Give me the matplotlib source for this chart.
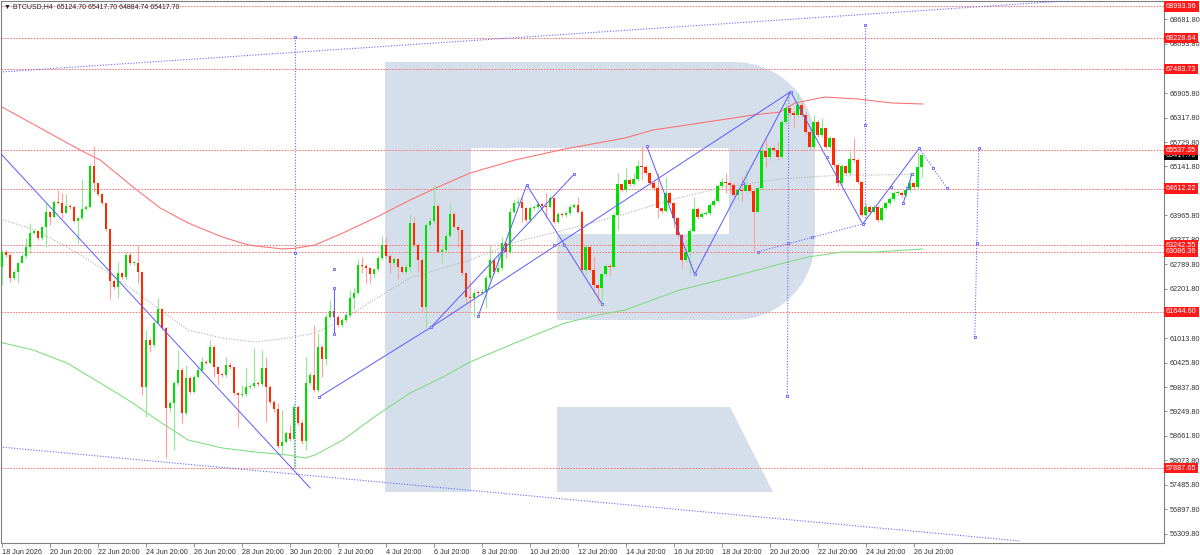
import numpy as np
import matplotlib
matplotlib.use("Agg")
import matplotlib.pyplot as plt
import matplotlib.transforms as mtransforms
from matplotlib.patches import Polygon

plt.rcParams['font.family'] = ['Liberation Sans', 'DejaVu Sans']

header = "\u25bc BTCUSD,H4  65124.70 65417.70 64884.74 65417.70"

# H4 candles, bar 0 = 18 Jun 20:00
first_open = 62732
closes = [
    63093, 63013, 62453, 62612, 62814, 62989, 63213, 63535, 63598, 63415,
    63679, 64040, 63920, 64295, 64271, 64016, 64199, 64160, 63838, 63896,
    64112, 64175, 65154, 64738, 64473, 64257, 63631, 62395, 62251, 62573,
    62477, 63013, 62814, 62828, 62612, 59846, 60969, 60849, 61371, 61707,
    61250, 59326, 59447, 59928, 60247, 59206, 60048, 59726, 60072, 60247,
    60447, 60423, 60808, 60327, 60151, 60127, 60368, 60312, 59687, 59646,
    59670, 59846, 59863, 59942, 59903, 60303, 59846, 59485, 59302, 58420,
    58523, 58725, 58581, 59350, 58980, 58540, 59928, 60127, 59766, 60793,
    60505, 61530, 61674, 61530, 61330, 61450, 61570, 61972, 62107, 62773,
    62756, 62693, 62556, 62669, 62934, 63247, 62989, 62814, 62917, 62732,
    62612, 62732, 63776, 63254, 62893, 61755, 63735, 63831, 64199, 63093,
    63134, 63478, 63999, 63694, 63615, 62573, 62010, 61972, 62107, 62092,
    62131, 62453, 62893, 62612, 62693, 63295, 63093, 64055, 64257, 64295,
    64136, 63855, 64136, 64161, 64240, 64192, 64175, 64377, 63814, 63999,
    63975, 64016, 64175, 64216, 64055, 62652, 63198, 62652, 62292, 62212,
    62556, 62749, 62717, 63975, 64721, 64577, 64817, 64721, 64834, 65154,
    65122, 64978, 64738, 64632, 64136, 64079, 64497, 64257, 63896, 63494,
    62893, 63093, 63598, 64112, 63920, 63992, 64016, 64216, 64319, 64673,
    64776, 64738, 64697, 64456, 64577, 64553, 64697, 64553, 64055, 64617,
    65514, 65370, 65579, 65538, 65377, 66219, 66541, 66421, 66380, 66621,
    66380, 65979, 65618, 66219, 65899, 66060, 65618, 65820, 65178, 64738,
    65154, 64978, 65315, 65298, 64776, 63975, 64175, 64055, 64175, 63855,
    64136, 64257, 64353, 64497, 64512, 64456, 64577, 64738, 64641, 65124.7,
    65417.7,
]
highs = [
    63133, 63133, 63061, 62652, 62845, 63037, 63422, 63783, 63639, 63615,
    63711, 64264, 64047, 64336, 64577, 64504, 64480, 64240, 64216, 63927,
    64834, 64216, 65202, 65635, 64697, 64456, 64264, 63639, 62436, 62852,
    62604, 63085, 63093, 62869, 63254, 62629, 61210, 61017, 61426, 61972,
    61739, 61282, 59502, 59983, 60729, 60296, 60368, 60103, 60128, 60327,
    60567, 60488, 60969, 60849, 60344, 60175, 60567, 60447, 60327, 59719,
    59887, 60327, 59911, 60769, 59983, 60729, 60567, 59887, 59526, 59447,
    59286, 58780, 58925, 59447, 59406, 59045, 60567, 60200, 61330, 61130,
    60849, 61594, 61931, 61972, 61570, 61498, 61618, 62171, 62251, 62910,
    62973, 62797, 62725, 62701, 62989, 63477, 63453, 63037, 62965, 62965,
    62773, 62797, 64000, 63935, 63302, 62941, 63776, 63903, 64697, 64240,
    63206, 63535, 64257, 64047, 63735, 63639, 62604, 62412, 62171, 62171,
    62196, 62532, 63254, 62941, 63054, 63453, 63326, 64136, 64336, 64384,
    64415, 64168, 64192, 64216, 64288, 64264, 64497, 64456, 64408, 64047,
    64047, 64071, 64240, 64264, 64415, 64096, 63254, 63230, 62973, 62316,
    62604, 62797, 62797, 64047, 64978, 64745, 65098, 64865, 64985, 65298,
    65635, 65178, 65009, 64793, 64978, 64168, 64896, 64528, 64288, 63927,
    63518, 63374, 63663, 64415, 64168, 64047, 64071, 64264, 64384, 64721,
    64858, 64978, 64769, 64745, 64625, 64896, 65058, 64745, 64625, 64673,
    65659, 65803, 65635, 65635, 65738, 66284, 66669, 66580, 66501, 66921,
    66693, 66452, 66020, 66380, 66260, 66301, 66099, 65875, 65779, 65226,
    65202, 65178, 65498, 65820, 65346, 64793, 64271, 64216, 64216, 64216,
    64192, 64312, 64408, 64553, 64577, 64553, 64625, 64978, 64776, 65498,
    65417.7,
]
lows = [
    62292, 62965, 62371, 62412, 62333, 62845, 62941, 63061, 63518, 63374,
    63374, 63213, 63735, 63903, 64240, 63903, 64023, 64120, 63807, 63295,
    63855, 64096, 64144, 64536, 64432, 64216, 63590, 61948, 62196, 61972,
    62436, 62436, 62773, 62773, 62333, 59646, 59124, 60688, 60801, 61354,
    61210, 58124, 59237, 58324, 59887, 58966, 59165, 59670, 59694, 60055,
    60223, 60392, 60392, 60086, 59887, 60079, 60086, 60271, 59646, 58884,
    59598, 59622, 59791, 59815, 59863, 59863, 59004, 59430, 59237, 58372,
    58203, 58492, 58540, 57888, 58925, 58468, 58324, 59887, 59719, 59719,
    60086, 60368, 61498, 61371, 61282, 61282, 61402, 61522, 61691, 62075,
    62573, 62333, 62333, 62453, 62629, 62893, 62941, 62588, 62773, 62429,
    62580, 62556, 62612, 63206, 62612, 61650, 61289, 63663, 63783, 63061,
    62814, 63085, 63446, 63663, 63213, 62532, 61852, 61770, 61546, 62027,
    62051, 61731, 62412, 62556, 62580, 62652, 62934, 63061, 64023, 64216,
    63814, 63807, 63807, 64096, 64120, 64144, 63896, 64144, 63783, 63783,
    63927, 63927, 63975, 64144, 64023, 62604, 62532, 62612, 62092, 61852,
    61890, 62508, 62532, 62677, 63615, 64528, 64528, 64673, 64673, 64793,
    64817, 64937, 64697, 64577, 63896, 64023, 64047, 64216, 63655, 63446,
    62701, 62845, 62549, 63566, 63879, 63903, 63975, 63975, 64168, 64288,
    64625, 64497, 64497, 64408, 64336, 64295, 64504, 64504, 63093, 64023,
    64577, 65130, 65298, 65490, 65298, 65346, 66164, 66356, 66060, 66332,
    66332, 65923, 65563, 65587, 65851, 65851, 65563, 65587, 65130, 64673,
    64697, 64937, 64937, 65250, 64721, 63927, 63951, 63999, 64023, 63814,
    63831, 64096, 64216, 64312, 64456, 64408, 64408, 64528, 64577, 64601,
    64884.74,
]

tick_bars = list(range(0, 229, 12))
tick_labels = ["18 Jun 2026", "20 Jun 20:00", "22 Jun 20:00", "24 Jun 20:00",
               "26 Jun 20:00", "28 Jun 20:00", "30 Jun 20:00", "2 Jul 20:00",
               "4 Jul 20:00", "6 Jul 20:00", "8 Jul 20:00", "10 Jul 20:00",
               "12 Jul 20:00", "14 Jul 20:00", "16 Jul 20:00", "18 Jul 20:00",
               "20 Jul 20:00", "22 Jul 20:00", "24 Jul 20:00", "26 Jul 20:00"]

price_ticks = [68681.80, 68093.80, 66905.80, 66317.80, 65729.80, 65141.80,
               63965.80, 63377.80, 62789.80, 62201.80, 61013.80, 60425.80,
               59837.80, 59249.80, 58661.80, 58073.80, 57485.80, 56897.80,
               56309.80]
levels = [68993.96, 68228.64, 67483.73, 65537.35, 64612.22, 63242.55,
          63086.36, 61644.60, 57887.65]
last_price = 65417.70

# moving averages, read at sample bars
ma_red_x = [-0.4, 19.6, 24.6, 32.8, 39.6, 46.6, 55.1, 61.6, 70.1, 73.3, 78.3,
            85.3, 93.8, 102.1, 109.1, 117.1, 128.3, 140.8, 155.8, 162.8, 171.3,
            179.6, 187.8, 194.6, 198.3, 205.8, 214.1, 222.6, 230.3]
ma_red = [66597, 65538, 65298, 64649, 64144, 63783, 63446, 63254, 63158, 63175,
          63254, 63543, 63928, 64336, 64649, 64985, 65298, 65563, 65827, 66020,
          66140, 66260, 66380, 66452, 66669, 66813, 66765, 66669, 66645]
ma_gray_x = [-0.4, 7.8, 16.3, 24.6, 32.8, 39.6, 46.6, 55.1, 63.3, 71.6, 78.3,
             85.3, 93.8, 102.1, 110.3, 117.1, 128.3, 140.8, 155.8, 167.1, 179.6,
             194.6, 201.6, 210.1, 218.3, 228.3]
ma_gray = [63872, 63639, 63206, 62725, 62172, 61690, 61209, 61017, 60921, 61017,
           61137, 61450, 61979, 62460, 62701, 62893, 63326, 63615, 63999, 64336,
           64625, 64841, 64889, 64937, 64937, 64961]
ma_green_x = [-0.4, 7.8, 16.3, 24.6, 32.8, 36.3, 39.6, 46.6, 55.1, 63.3, 71.6,
              75.8, 78.3, 85.3, 93.8, 102.1, 110.3, 117.1, 128.3, 140.8, 149.1,
              155.8, 169.6, 179.6, 194.6, 201.6, 210.1, 218.3, 230.3]
ma_green = [60914, 60729, 60416, 59935, 59454, 59213, 58997, 58564, 58372, 58276,
            58203, 58131, 58203, 58564, 59165, 59694, 60079, 60440, 60897, 61378,
            61570, 61690, 62172, 62412, 62797, 62965, 63085, 63085, 63158]

# drawn analysis objects (bar, price)
solid_lines = [
    ([-0.4, 77.1], [65466, 57410]),
    ([79.2, 107.3], [59591, 61274]),
    ([107.3, 197.25], [61274, 66941]),
    ([107.3, 143.15], [61274, 64961]),
    ([119.15, 131.25, 150.15], [61554, 64697, 61828]),
    ([161.25, 173.25, 197.25, 215.25, 229.4], [65635, 62549, 66941, 63759, 65579]),
    ([225.4, 227.5], [64257, 64954]),
    ([83.1, 83.1], [62213, 61113]),
]
dotted_lines = [
    ([-0.4, 290.6], [67414, 69281]),
    ([-0.4, 254.6], [58396, 56135]),
    ([229.4, 236.4], [65579, 64617]),
    ([189.15, 215.25], [63093, 63759]),
    ([73.2, 73.2], [68256, 57843]),
    ([196.8, 196.4], [66941, 59622]),
    ([215.8, 215.8], [68545, 63759]),
    ([244.3, 243.3], [65587, 61041]),
]
marker_x = [79.2, 107.3, 125.25, 143.15, 119.15, 131.25, 150.15, 140.65, 138.1,
            161.25, 173.25, 197.25, 215.25, 229.4, 185.25, 206.25, 222.3, 232.9,
            236.4, 225.4, 227.5, 226.4, 189.15, 202.5, 73.2, 73.2, 196.5, 196.4,
            215.8, 215.8, 244.3, 243.8, 243.3, 83.1, 83.1, 83.1]
marker_y = [59591, 61274, 63117, 64961, 61554, 64697, 61828, 63261, 63261,
            65635, 62549, 66941, 63759, 65579, 64752, 65363, 64656, 65098,
            64617, 64257, 64954, 64617, 63093, 63439, 68256, 63061, 63302, 59622,
            68545, 66140, 65587, 63302, 61041, 62213, 62666, 61113]

W, H = 1200, 555
fig = plt.figure(figsize=(W / 100, H / 100), dpi=100)
ax = fig.add_axes([1 / W, 12 / H, 1163 / W, 542 / H])
ax.set_xlim(-0.2, 290.6)
ax.set_ylim(56087, 69122)


def px(xp, yp):
    return ((xp - 1) / 1163, (543 - yp) / 542)


# watermark "R"
logo_c = '#d5dfeb'
r = 80
outer = [(385, 62), (735, 62)]
for a in np.linspace(np.pi / 2, 0, 12):
    outer.append((735 + r * np.cos(a), 142 - r * np.sin(a)))
for a in np.linspace(0, -np.pi / 2, 12):
    outer.append((735 + r * np.cos(a), 240 - r * np.sin(a)))
outer += [(557, 320), (557, 234), (729, 234), (729, 148), (471, 148),
          (471, 492), (385, 492)]
ax.add_patch(Polygon([px(*p) for p in outer], closed=True, fc=logo_c, ec='none',
                     transform=ax.transAxes, zorder=0))
leg = [(557, 407), (730, 407), (773, 492), (557, 492)]
ax.add_patch(Polygon([px(*p) for p in leg], closed=True, fc=logo_c, ec='none',
                     transform=ax.transAxes, zorder=0))

for lv in levels:
    ax.axhline(lv, color='#ff6a6a', lw=0.7, ls=(0, (1.5, 1.5)), zorder=1)

ax.plot(ma_red_x, ma_red, color='#ff6e6e', lw=0.75, zorder=2)
ax.plot(ma_green_x, ma_green, color='#7ddc7d', lw=0.75, zorder=2)
ax.plot(ma_gray_x, ma_gray, color='#b0b0b0', lw=0.8, ls=(0, (1, 1.5)), zorder=2)

# candles
c = np.array(closes, dtype=float)
o = np.array([first_open] + closes[:-1], dtype=float)
hi = np.maximum(np.array(highs, dtype=float), np.maximum(o, c))
lo = np.minimum(np.array(lows, dtype=float), np.minimum(o, c))
idx = np.arange(len(c))
up = c >= o
ax.vlines(idx[up], lo[up], hi[up], color='#90e890', lw=0.8, zorder=3)
ax.vlines(idx[~up], lo[~up], hi[~up], color='#ff9f9f', lw=0.8, zorder=3)
bottom = np.minimum(o, c)
height = np.maximum(np.abs(c - o), 24)
ax.bar(idx[up], height[up], bottom=bottom[up], width=0.6, color='#00e000',
       lw=0, zorder=4)
ax.bar(idx[~up], height[~up], bottom=bottom[~up], width=0.6, color='#ff2a00',
       lw=0, zorder=4)

blue = '#5a5aff'
for xs, ys in solid_lines:
    ax.plot(xs, ys, color=blue, lw=0.7, zorder=5)
for xs, ys in dotted_lines:
    ax.plot(xs, ys, color='#6464ff', lw=0.8, ls=(0, (1, 1.5)), zorder=5)
ax.plot(marker_x, marker_y, ls='none', marker='s', ms=2.0, mfc='white',
        mec=blue, mew=0.6, zorder=6)

# axes
for s in ax.spines.values():
    s.set_color('#808080')
    s.set_linewidth(0.8)
ax.yaxis.tick_right()
ax.set_yticks(price_ticks)
ax.set_yticklabels([f"{p:.2f}" for p in price_ticks])
ax.tick_params(axis='y', length=2, width=0.6, color='#808080', pad=2,
               labelsize=5.2, labelcolor='#333333')
ax.set_xticks(tick_bars)
ax.set_xticklabels(tick_labels, ha='left')
ax.tick_params(axis='x', length=3, width=0.6, color='#808080', pad=1,
               labelsize=5.2, labelcolor='#333333')

trans = mtransforms.blended_transform_factory(ax.transAxes, ax.transData)
ax.text(1.0 + 2 / 1163, last_price, f"{last_price:.2f}", transform=trans,
        fontsize=5.2, color='#e0e0e0', va='center', ha='left', zorder=7,
        bbox=dict(boxstyle='square,pad=0.25', fc='black', ec='none'))
for lv in levels:
    ax.text(1.0 + 2 / 1163, lv, f"{lv:.2f}", transform=trans, fontsize=5.2,
            color='white', va='center', ha='left', zorder=8,
            bbox=dict(boxstyle='square,pad=0.25', fc='#ff1a1a', ec='none'))

ax.text(0.003, 0.997, header, transform=ax.transAxes, fontsize=5, va='top',
        ha='left', color='#222222', zorder=9)

fig.savefig('out.png', dpi=100)
